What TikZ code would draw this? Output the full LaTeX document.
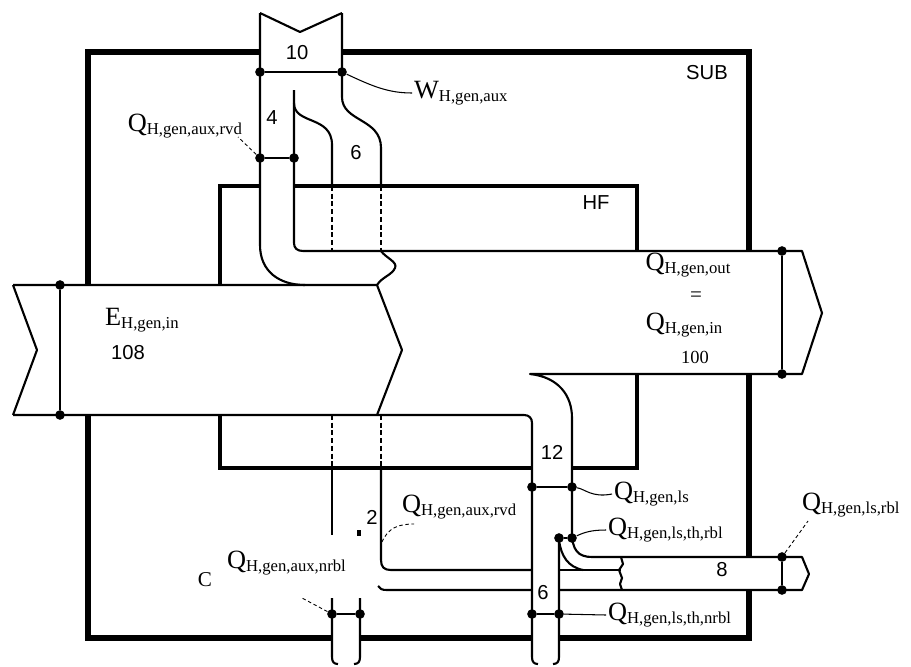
\documentclass[tikz,border=0pt]{standalone}
\usepackage{fontspec}
\setmainfont{Liberation Serif}
\setsansfont{Liberation Sans}
\newcommand{\flowsym}[2]{{\fontsize{15}{17}\selectfont #1}{\fontsize{9.5}{11}\selectfont\raisebox{-0.35ex}{#2}}}
\begin{document}
\begin{tikzpicture}[
x=0.02cm,
y=-0.02cm,
sysline/.style={line width=3.2pt},
hfline/.style={line width=2.7pt},
flowline/.style={line width=1.2pt, line join=round},
hidden/.style={flowline, dash pattern=on 2.8pt off 1.6pt},
tapline/.style={line width=0.6pt},
leader/.style={line width=0.5pt, dash pattern=on 2pt off 1.5pt},
junct/.style={circle, fill, inner sep=0pt, minimum size=5.5pt},
qlabel/.style={inner sep=1pt, anchor=west},
num/.style={font=\sffamily\fontsize{11.5}{13}\selectfont, inner sep=1pt}
]
\useasboundingbox (0,0) rectangle (911,666);
\draw[sysline] (88,52) rectangle (749,638);
\draw[hfline] (220,186) rectangle (637,468);
\node[num] (sub) at (707,73) {SUB};
\node[num] (hf) at (596,203) {HF};
\fill[white] (13,285) -- (377,285) -- (402,350) -- (377,415) -- (13,415) -- (37,350) -- cycle;
\fill[white] (260,13) -- (300,32) -- (342,13) -- (342,97) -- (294,97) -- (294,251) -- (381,251) -- (395,268) -- (377,285) -- (260,285) -- cycle;
\fill[white] (303,251) -- (802,251) -- (822,313) -- (802,374) -- (303,374) -- cycle;
\fill[white] (532,374) rectangle (572,540);
\fill[white] (532,540) rectangle (559,664);
\fill[white] (583,557) -- (802,557) -- (809,574) -- (802,590) -- (583,590) -- cycle;
\fill[white] (332,598) rectangle (360,664);
\draw[flowline] (13,285) -- (377,285) -- (402,350) -- (377,415);
\draw[flowline] (13,285) -- (37,350) -- (13,415);
\draw[flowline] (13,415) -- (524,415) .. controls (529,415) and (532,418) .. (532,423) -- (532,657) .. controls (532,662) and (534,664) .. (538,664);
\draw[flowline] (260,13) -- (300,32) -- (342,13);
\draw[flowline] (260,13) -- (260,245) .. controls (260,272) and (280,285) .. (305,285);
\draw[flowline] (342,13) -- (342,97) .. controls (342,122) and (381,118) .. (381,148) -- (381,186);
\draw[flowline] (294,90) -- (294,243) .. controls (294,248) and (297,251) .. (303,251) -- (802,251) -- (822,313) -- (802,374) -- (530,374) .. controls (558,377) and (572,395) .. (572,418) -- (572,532) .. controls (572,550) and (578,557) .. (592,557) -- (802,557) -- (809,574) -- (802,590) -- (559,590);
\draw[flowline] (294,103) .. controls (294,125) and (332,115) .. (332,145) -- (332,186);
\draw[hidden] (332,186) -- (332,251);
\draw[hidden] (381,186) -- (381,251);
\draw[hidden] (332,415) -- (332,468);
\draw[hidden] (381,415) -- (381,468);
\draw[flowline] (381,251) .. controls (386,258) and (398,262) .. (395,268) .. controls (392,275) and (382,277) .. (377,285);
\draw[flowline] (332,468) -- (332,535);
\draw[flowline] (381,468) -- (381,560) .. controls (381,567) and (384,570) .. (391,570) -- (532,570);
\draw[flowline] (378,586) .. controls (380,589) and (382,590) .. (387,590) -- (532,590);
\draw[flowline] (559,570) -- (621,570);
\draw[flowline] (621,557) -- (623,564) -- (619,570) -- (622,578) -- (620,584) -- (622,590);
\draw[flowline] (559,538) -- (559,657) .. controls (559,662) and (557,664) .. (553,664);
\draw[flowline] (559,540) .. controls (561,556) and (568,567) .. (583,570);
\draw[flowline] (332,598) -- (332,657) .. controls (332,662) and (334,664) .. (338,664);
\draw[flowline] (360,598) -- (360,657) .. controls (360,662) and (358,664) .. (354,664);
\fill (357,530) rectangle (361,536);
\node[junct] (inT) at (60,285) {};
\node[junct] (inB) at (60,415) {};
\node[junct] (outT) at (782,251) {};
\node[junct] (outB) at (782,374) {};
\node[junct] (auxL) at (260,72) {};
\node[junct] (auxR) at (342,72) {};
\node[junct] (rvdL) at (260,158) {};
\node[junct] (rvdR) at (294,158) {};
\node[junct] (lsL) at (532,487) {};
\node[junct] (lsR) at (572,487) {};
\node[junct] (rblL) at (559,538) {};
\node[junct] (rblR) at (572,538) {};
\node[junct] (nrblL) at (532,614) {};
\node[junct] (nrblR) at (559,614) {};
\node[junct] (anrL) at (332,614) {};
\node[junct] (anrR) at (360,614) {};
\node[junct] (sblT) at (782,557) {};
\node[junct] (sblB) at (782,590) {};
\draw[tapline] (inT) -- (inB);
\draw[tapline] (outT) -- (outB);
\draw[tapline] (auxL) -- (auxR);
\draw[tapline] (rvdL) -- (rvdR);
\draw[tapline] (lsL) -- (lsR);
\draw[tapline] (rblL) -- (rblR);
\draw[tapline] (nrblL) -- (nrblR);
\draw[tapline] (anrL) -- (anrR);
\draw[tapline] (sblT) -- (sblB);
\node[num] (n10) at (297,53) {10};
\node[num] (n4) at (272,118) {4};
\node[num] (n6a) at (356,153) {6};
\node[num] (n12) at (552,452) {12};
\node[num] (n2) at (372,517) {2};
\node[num] (n6b) at (543,593) {6};
\node[num] (n8) at (722,570) {8};
\node[num] (n108) at (128,353) {108};
\node[qlabel] (waux) at (412,93) {\flowsym{W}{H,gen,aux}};
\node[qlabel, anchor=east] (rvdtop) at (244,126) {\flowsym{Q}{H,gen,aux,rvd}};
\node[qlabel] (ein) at (103,320) {\flowsym{E}{H,gen,in}};
\node (qout) at (688,265) {\flowsym{Q}{H,gen,out}};
\node (eq) at (696,297) {\fontsize{12}{14}\selectfont =};
\node (qin) at (684,325) {\flowsym{Q}{H,gen,in}};
\node (n100) at (695,357) {\fontsize{10.5}{12}\selectfont 100};
\node[qlabel] (qls) at (612,494) {\flowsym{Q}{H,gen,ls}};
\node[qlabel] (qrbl) at (606,530) {\flowsym{Q}{H,gen,ls,th,rbl}};
\node[qlabel] (qnrbl) at (606,615) {\flowsym{Q}{H,gen,ls,th,nrbl}};
\node[qlabel] (qsbl) at (800,505) {\flowsym{Q}{H,gen,ls,rbl}};
\node[qlabel] (rvdlow) at (400,507) {\flowsym{Q}{H,gen,aux,rvd}};
\node[qlabel] (anrbl) at (225,563) {\flowsym{Q}{H,gen,aux,nrbl}};
\node (stray) at (205,580) {\fontsize{12}{14}\selectfont C};
\coordinate (rvdtap) at (382,542);
\coordinate (rvdtip) at (238,137);
\coordinate (rvdlowtip) at (414,524);
\coordinate (anrtip) at (302,598);
\coordinate (sbltip) at (808,521);
\draw[tapline] (auxR) .. controls (372,86) and (388,93) .. (waux.west);
\draw[leader] (rvdL) -- (rvdtip);
\draw[leader] (rvdtap) .. controls (388,528) and (398,524) .. (rvdlowtip);
\draw[leader] (anrL) -- (anrtip);
\draw[leader] (sblT) -- (sbltip);
\draw[tapline] (lsR) .. controls (585,489) and (592,498) .. (qls.west);
\draw[tapline] (rblR) .. controls (585,532) and (592,530) .. (qrbl.west);
\draw[tapline] (nrblR) -- (qnrbl.west);
\end{tikzpicture}
\end{document}
